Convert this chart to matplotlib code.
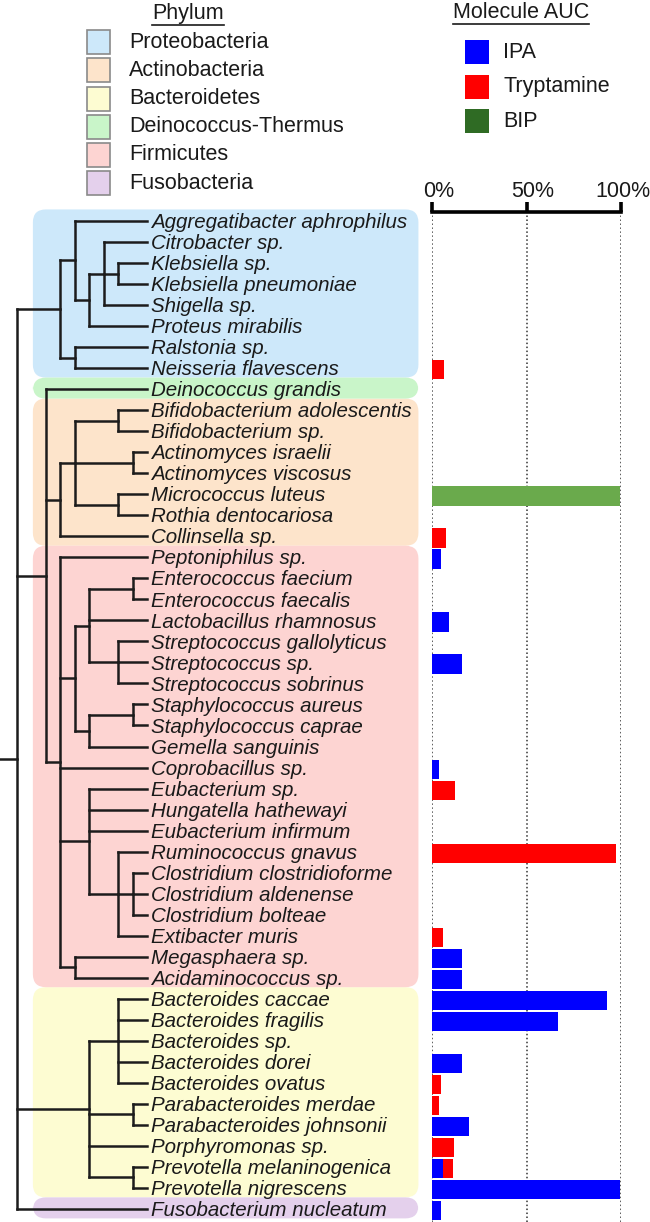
import matplotlib
matplotlib.use('Agg')
import matplotlib.pyplot as plt
from matplotlib.patches import FancyBboxPatch, Rectangle
from matplotlib.lines import Line2D
from matplotlib.transforms import ScaledTranslation

plt.rcParams['font.family'] = ['Liberation Sans', 'DejaVu Sans']

species = [
    'Aggregatibacter aphrophilus', 'Citrobacter sp.', 'Klebsiella sp.', 'Klebsiella pneumoniae',
    'Shigella sp.', 'Proteus mirabilis', 'Ralstonia sp.', 'Neisseria flavescens',
    'Deinococcus grandis',
    'Bifidobacterium adolescentis', 'Bifidobacterium sp.', 'Actinomyces israelii',
    'Actinomyces viscosus', 'Micrococcus luteus', 'Rothia dentocariosa', 'Collinsella sp.',
    'Peptoniphilus sp.', 'Enterococcus faecium', 'Enterococcus faecalis', 'Lactobacillus rhamnosus',
    'Streptococcus gallolyticus', 'Streptococcus sp.', 'Streptococcus sobrinus',
    'Staphylococcus aureus', 'Staphylococcus caprae', 'Gemella sanguinis', 'Coprobacillus sp.',
    'Eubacterium sp.', 'Hungatella hathewayi', 'Eubacterium infirmum', 'Ruminococcus gnavus',
    'Clostridium clostridioforme', 'Clostridium aldenense', 'Clostridium bolteae',
    'Extibacter muris', 'Megasphaera sp.', 'Acidaminococcus sp.',
    'Bacteroides caccae', 'Bacteroides fragilis', 'Bacteroides sp.', 'Bacteroides dorei',
    'Bacteroides ovatus', 'Parabacteroides merdae', 'Parabacteroides johnsonii',
    'Porphyromonas sp.', 'Prevotella melaninogenica', 'Prevotella nigrescens',
    'Fusobacterium nucleatum',
]

# molecule AUC (% of max), one value per species, same order as above
ipa = [0, 0, 0, 0, 0, 0, 0, 0,
       0,
       0, 0, 0, 0, 0, 0, 0,
       5, 0, 0, 9, 0, 16, 0, 0, 0, 0, 3.5, 0, 0, 0, 0, 0, 0, 0, 0, 16, 16,
       92.5, 66.5, 0, 16, 0, 0, 19.5, 0, 6, 99.5,
       4.5]
tryptamine = [0, 0, 0, 0, 0, 0, 0, 6.5,
              0,
              0, 0, 0, 0, 0, 0, 7.5,
              0, 0, 0, 0, 0, 0, 0, 0, 0, 0, 0, 12, 0, 0, 97.5, 0, 0, 0, 6, 0, 0,
              0, 0, 0, 0, 4.5, 3.5, 0, 11.5, 5, 0,
              0]
bip = [0, 0, 0, 0, 0, 0, 0, 0,
       0,
       0, 0, 0, 0, 99.5, 0, 0,
       0, 0, 0, 0, 0, 0, 0, 0, 0, 0, 0, 0, 0, 0, 0, 0, 0, 0, 0, 0, 0,
       0, 0, 0, 0, 0, 0, 0, 0, 0, 0,
       0]

molecules = ['IPA', 'Tryptamine', 'BIP']
molecule_colors = ['#0000ff', '#ff0000', '#2f6b24']
bip_bar_color = '#6aaa4c'

phyla = ['Proteobacteria', 'Actinobacteria', 'Bacteroidetes',
         'Deinococcus-Thermus', 'Firmicutes', 'Fusobacteria']
phylum_colors = ['#cde8fa', '#fde4cb', '#fdfcd2', '#c9f5c9', '#fdd4d2', '#e4d0ec']
# first and last species row inside each phylum box
phylum_first = [0, 9, 37, 8, 16, 47]
phylum_last = [7, 15, 46, 8, 36, 47]

# cladogram: (node depth, [children]); leaves all end at depth 9
LEAF = 9
tree = (0, [
    (3, [
        (4, ['Aggregatibacter aphrophilus',
             (5, [(6, ['Citrobacter sp.',
                       (7, ['Klebsiella sp.', 'Klebsiella pneumoniae']),
                       'Shigella sp.']),
                  'Proteus mirabilis'])]),
        (4, ['Ralstonia sp.', 'Neisseria flavescens'])]),
    (2, ['Deinococcus grandis',
         (3, [(4, [(7, ['Bifidobacterium adolescentis', 'Bifidobacterium sp.']),
                   (8, ['Actinomyces israelii', 'Actinomyces viscosus']),
                   (7, ['Micrococcus luteus', 'Rothia dentocariosa'])]),
              'Collinsella sp.']),
         (3, ['Peptoniphilus sp.',
              (4, [(5, [(8, ['Enterococcus faecium', 'Enterococcus faecalis']),
                        'Lactobacillus rhamnosus',
                        (7, ['Streptococcus gallolyticus', 'Streptococcus sp.',
                             'Streptococcus sobrinus'])]),
                   (5, [(8, ['Staphylococcus aureus', 'Staphylococcus caprae']),
                        'Gemella sanguinis'])]),
              'Coprobacillus sp.',
              (5, ['Eubacterium sp.', 'Hungatella hathewayi', 'Eubacterium infirmum',
                   (7, ['Ruminococcus gnavus',
                        (8, ['Clostridium clostridioforme', 'Clostridium aldenense',
                             'Clostridium bolteae']),
                        'Extibacter muris'])]),
              (4, ['Megasphaera sp.', 'Acidaminococcus sp.'])])]),
    (5, [(7, ['Bacteroides caccae', 'Bacteroides fragilis', 'Bacteroides sp.',
              'Bacteroides dorei', 'Bacteroides ovatus']),
         (8, ['Parabacteroides merdae', 'Parabacteroides johnsonii']),
         'Porphyromonas sp.',
         (8, ['Prevotella melaninogenica', 'Prevotella nigrescens'])]),
    'Fusobacterium nucleatum',
])

W, H, DPI = 650, 1222, 100
ROW_PX = 21.02       # pixel pitch of the species rows
ROW0_PX = 221        # pixel y of the first row
DEPTH_PX = 14.44     # pixel pitch of one tree level
DEPTH0_PX = 17       # pixel x of the root

line_kw = dict(color='#1c1c1c', lw=1.8, solid_capstyle='projecting')
txt_color = '#1a1a1a'


def px_to_row(py):
    return (py - ROW0_PX) / ROW_PX


fig = plt.figure(figsize=(W / DPI, H / DPI), dpi=DPI)

# ---- tree panel
tree_top, tree_right = 200, 430
ax = fig.add_axes([0, 0, tree_right / W, (H - tree_top) / H])
ax.set_xlim(-DEPTH0_PX / DEPTH_PX, (tree_right - DEPTH0_PX) / DEPTH_PX)
ax.set_ylim(px_to_row(H), px_to_row(tree_top))
ax.axis('off')

asp = DEPTH_PX / ROW_PX
for name, col, a, b in zip(phyla, phylum_colors, phylum_first, phylum_last):
    box = FancyBboxPatch((1.1, a - 0.55), 26.7, b - a + 1.0,
                         boxstyle='round,pad=0,rounding_size=0.9',
                         mutation_aspect=asp, fc=col, ec='none', zorder=0)
    ax.add_patch(box)


def draw(node, parent_depth):
    if isinstance(node, str):
        y = species.index(node)
        ax.plot([parent_depth, LEAF], [y, y], **line_kw)
        return y
    depth, kids = node
    ys = [draw(k, depth) for k in kids]
    ax.plot([depth, depth], [min(ys), max(ys)], **line_kw)
    y = (min(ys) + max(ys)) / 2
    if parent_depth is not None:
        ax.plot([parent_depth, depth], [y, y], **line_kw)
    return y


root_y = draw(tree, None)
ax.plot([-1.3, 0], [root_y, root_y], **line_kw)

for i, name in enumerate(species):
    ax.text(LEAF + 0.28, i + 0.34, name, style='italic', fontsize=14.8,
            color=txt_color, va='baseline', ha='left')

# ---- bar panel
bar_left, bar_right, bar_top = 432, 621, 211.5
axb = fig.add_axes([bar_left / W, 0, (bar_right - bar_left) / W, (H - bar_top) / H])
axb.set_xlim(0, 100)
axb.set_ylim(px_to_row(H), px_to_row(bar_top))
rows = [i + 0.08 for i in range(len(species))]
left2 = [p + t for p, t in zip(ipa, tryptamine)]
axb.barh(rows, ipa, height=0.92, color=molecule_colors[0], lw=0)
axb.barh(rows, tryptamine, left=ipa, height=0.92, color=molecule_colors[1], lw=0)
axb.barh(rows, bip, left=left2, height=0.92, color=bip_bar_color, lw=0)

for s in ['left', 'right', 'bottom']:
    axb.spines[s].set_visible(False)
axb.spines['top'].set_linewidth(2.6)
axb.spines['top'].set_clip_on(False)
axb.xaxis.tick_top()
axb.set_xticks([0, 50, 100])
axb.set_xticklabels(['0%', '50%', '100%'])
axb.tick_params(axis='x', length=7.5, width=2.6, direction='out', pad=2,
                labelsize=15.5, labelcolor=txt_color)
axb.set_yticks([])
axb.grid(axis='x', color='#333333', lw=1.1, linestyle=(0, (1, 1.6)))
axb.set_axisbelow(True)
for lbl, dx in zip(axb.get_xticklabels(), [7, 6, 2]):
    lbl.set_transform(lbl.get_transform() +
                      ScaledTranslation(dx / DPI, -4 / DPI, fig.dpi_scale_trans))


# ---- legends (pixel positions measured from the top-left)
def fig_rect(x, y, w, h, fc, ec):
    fig.add_artist(Rectangle((x / W, 1 - (y + h) / H), w / W, h / H,
                             transform=fig.transFigure, fc=fc, ec=ec, lw=1.2))


def fig_text(x, y, s, **kw):
    return fig.text(x / W, 1 - y / H, s, fontsize=15.5, color=txt_color, **kw)


titles = [fig_text(188, 13, 'Phylum', ha='center', va='center'),
          fig_text(521, 12, 'Molecule AUC', ha='center', va='center')]

for k, (name, col) in enumerate(zip(phyla, phylum_colors)):
    cy = 42 + 28.25 * k
    fig_rect(87, cy - 12, 23, 24, col, '#8a8a8a')
    fig_text(129, cy, name, ha='left', va='center')

for k, (name, col) in enumerate(zip(molecules, molecule_colors)):
    cy = 52 + 34.7 * k
    fig_rect(465, cy - 12, 24, 24, col, 'none')
    fig_text(503, cy, name, ha='left', va='center')

fig.canvas.draw()
for t in titles:
    bb = t.get_window_extent()
    yy = bb.y0 - 1
    fig.add_artist(Line2D([bb.x0, bb.x1], [yy, yy], transform=None,
                          color=txt_color, lw=1.2))

fig.savefig('out.png', dpi=DPI)
